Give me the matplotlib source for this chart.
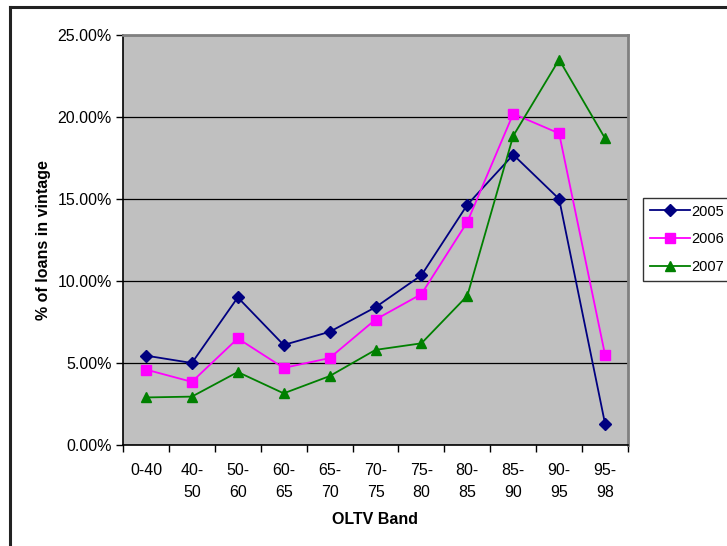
import matplotlib
matplotlib.use("Agg")
import matplotlib.pyplot as plt
from matplotlib.ticker import FuncFormatter, MultipleLocator
from matplotlib.lines import Line2D

bands = ["0-40", "40-\n50", "50-\n60", "60-\n65", "65-\n70", "70-\n75",
         "75-\n80", "80-\n85", "85-\n90", "90-\n95", "95-\n98"]
share_2005 = [5.45, 5.0, 9.0, 6.1, 6.9, 8.4, 10.35, 14.65, 17.7, 15.0, 1.3]
share_2006 = [4.6, 3.85, 6.5, 4.7, 5.3, 7.65, 9.2, 13.6, 20.2, 19.0, 5.5]
share_2007 = [2.9, 2.95, 4.45, 3.15, 4.2, 5.8, 6.2, 9.1, 18.85, 23.5, 18.7]

plt.rcParams["font.family"] = ["Liberation Sans", "DejaVu Sans"]

W, H = 727, 546
fig = plt.figure(figsize=(W / 100, H / 100), dpi=100)

# outer chart frame (left and top edges visible)
fig.add_artist(Line2D([9.5 / W, 9.5 / W], [0, 1 - 6.5 / H], color="#222222", lw=2.2))
fig.add_artist(Line2D([9.5 / W, 1], [1 - 6.5 / H, 1 - 6.5 / H], color="#222222", lw=2.2))

left, right, top, bottom = 123, 628, 35, 445
ax = fig.add_axes([left / W, 1 - bottom / H, (right - left) / W, (bottom - top) / H])
ax.set_facecolor("#c0c0c0")

x = list(range(len(bands)))
ax.plot(x, share_2005, color="#000080", lw=1.3, marker="D", ms=6, label="2005", zorder=3)
ax.plot(x, share_2006, color="#ff00ff", lw=1.3, marker="s", ms=6.5, label="2006", zorder=3)
ax.plot(x, share_2007, color="#008000", lw=1.3, marker="^", ms=7.5, label="2007", zorder=3)

ax.set_xlim(-0.5, len(bands) - 0.5)
ax.set_ylim(0, 25)
ax.yaxis.set_major_locator(MultipleLocator(5))
ax.yaxis.set_major_formatter(FuncFormatter(lambda v, p: f"{v:.2f}%"))
ax.grid(axis="y", color="black", lw=0.9)
ax.set_axisbelow(True)

ax.set_xticks([i - 0.5 for i in range(len(bands) + 1)])
ax.set_xticklabels([])
ax.set_xticks(x, minor=True)
ax.set_xticklabels(bands, minor=True, fontsize=11.5)
ax.tick_params(axis="x", which="minor", length=0, pad=13)
ax.tick_params(axis="x", which="major", direction="out", length=5, width=1)
ax.tick_params(axis="y", direction="out", length=5, width=1, labelsize=11.5, pad=3)
for lbl in ax.get_xticklabels(minor=True):
    lbl.set_verticalalignment("top")
    lbl.set_linespacing(1.55)

for side in ("left", "bottom"):
    ax.spines[side].set_color("black")
    ax.spines[side].set_linewidth(1.2)
for side in ("top", "right"):
    ax.spines[side].set_color("#808080")
    ax.spines[side].set_linewidth(2)

ax.set_xlabel("OLTV Band", fontsize=11.5, fontweight="bold", labelpad=9)
ax.set_ylabel("% of loans in vintage", fontsize=11.5, fontweight="bold", labelpad=5)

leg = ax.legend(loc="upper left", bbox_to_anchor=(643 / W, 1 - 198 / H),
                bbox_transform=fig.transFigure, frameon=True, fancybox=False,
                edgecolor="black", fontsize=10.5, handlelength=2.75,
                borderpad=0.45, labelspacing=0.95, handletextpad=0.12, borderaxespad=0)
leg.get_frame().set_linewidth(1)

fig.savefig("out.png", dpi=100)
